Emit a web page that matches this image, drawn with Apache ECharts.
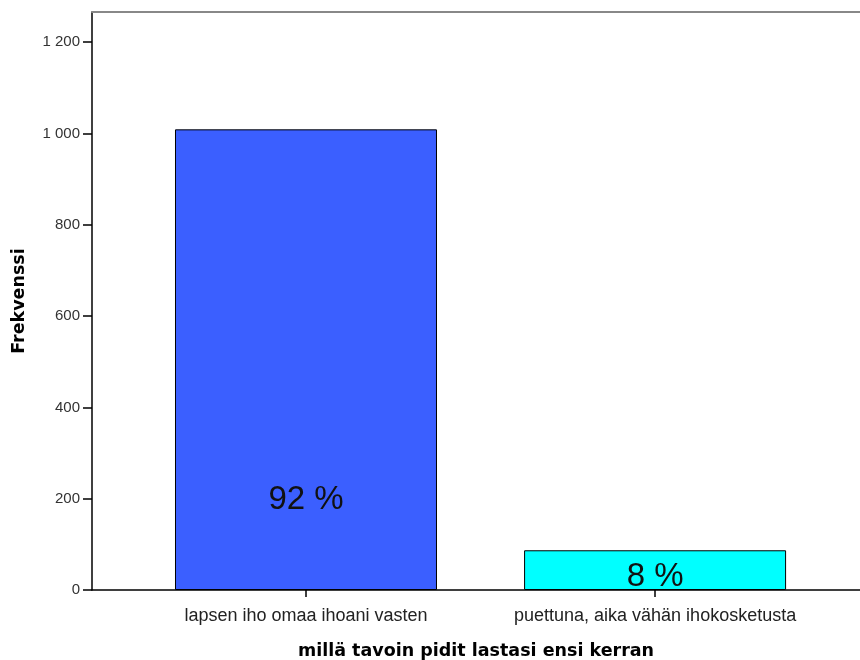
<!DOCTYPE html>
<html><head><meta charset="utf-8">
<script src="https://cdn.jsdelivr.net/npm/echarts@6/dist/echarts.min.js"></script>
<style>html,body{margin:0;padding:0;background:#fff}#c{width:860px;height:660px}</style>
</head><body><div id="c"></div>
<script>
var categories = ['lapsen iho omaa ihoani vasten', 'puettuna, aika vähän ihokosketusta'];
var frequencies = [1009, 87];
var percentLabels = ['92 %', '8 %'];
var yTicks = [0, 200, 400, 600, 800, 1000, 1200];

var barColors = ['#3b5fff', '#00ffff'];
var labelDistances = [74, -3];

var font = 'Liberation Sans, Arial, sans-serif';
var boldFont = 'DejaVu Sans, Verdana, sans-serif';
var data = categories.map(function (c, i) {
  return {
    value: [i, frequencies[i]],
    itemStyle: { color: barColors[i] },
    label: { formatter: percentLabels[i], distance: labelDistances[i] }
  };
});

var chart = echarts.init(document.getElementById('c'));
chart.setOption({
  animation: false,
  grid: { left: 92, right: 0, top: 12, bottom: 70, containLabel: false, outerBoundsMode: 'none' },
  xAxis: [{
    type: 'value', min: -0.613, max: 1.587,
    name: 'millä tavoin pidit lastasi ensi kerran',
    nameLocation: 'middle', nameGap: 52,
    nameTextStyle: { fontFamily: boldFont, fontWeight: 'bold', fontSize: 17.5, color: '#000' },
    axisLine: { show: true, onZero: false, lineStyle: { color: '#000', width: 1.5 } },
    axisTick: { show: true, customValues: [0, 1], length: 7, lineStyle: { color: '#000', width: 1.5 } },
    axisLabel: {
      customValues: [0, 1], margin: 17, fontFamily: font, fontSize: 18, color: '#222',
      formatter: function (v) { return categories[Math.round(v)] || ''; }
    },
    splitLine: { show: false }
  }, {
    type: 'value', position: 'top', min: 0, max: 1,
    axisLine: { show: true, onZero: false, lineStyle: { color: '#888', width: 2 } },
    axisTick: { show: false }, axisLabel: { show: false }, splitLine: { show: false }
  }],
  yAxis: {
    type: 'value', min: 0, max: 1266, interval: 200,
    name: 'Frekvenssi', nameLocation: 'middle', nameGap: 64,
    nameTextStyle: { fontFamily: boldFont, fontWeight: 'bold', fontSize: 17.5, color: '#000' },
    axisLine: { show: true, onZero: false, lineStyle: { color: '#000', width: 1.5 } },
    axisTick: { show: true, customValues: yTicks, length: 9, lineStyle: { color: '#000', width: 1.5 } },
    axisLabel: {
      customValues: yTicks, margin: 12, fontFamily: font, fontSize: 15, color: '#333',
      formatter: function (v) {
        if (v % 200 !== 0) return '';
        return String(v).replace(/\B(?=(\d{3})+(?!\d))/g, ' ');
      }
    },
    splitLine: { show: false }
  },
  series: [{
    type: 'bar', xAxisIndex: 0, barWidth: 262,
    data: data,
    itemStyle: { borderColor: '#000', borderWidth: 1 },
    label: {
      show: true, position: 'insideBottom',
      fontFamily: font, fontSize: 33, color: '#111'
    }
  }]
});
</script></body></html>
